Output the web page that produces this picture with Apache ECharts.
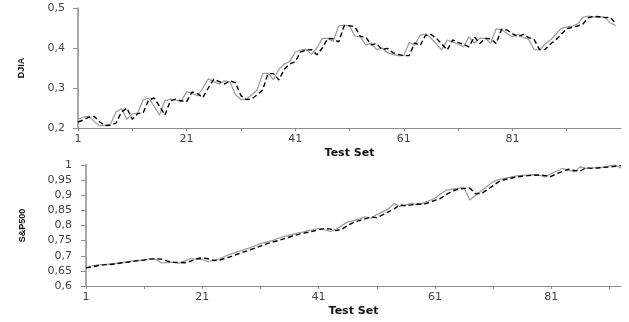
<!DOCTYPE html>
<html><head><meta charset="utf-8">
<script src="https://cdn.jsdelivr.net/npm/echarts@6/dist/echarts.min.js"></script>
<style>html,body{margin:0;padding:0;background:#fff}#c{width:629px;height:322px}</style>
</head><body><div id="c"></div>
<script>
const djiaActual = [0.222,0.227,0.229,0.216,0.205,0.207,0.210,0.240,0.249,0.222,0.235,0.238,0.270,0.275,0.255,0.232,0.268,0.272,0.270,0.266,
0.291,0.287,0.280,0.300,0.323,0.316,0.310,0.318,0.315,0.283,0.271,0.272,0.283,0.295,0.336,0.337,0.321,0.347,0.360,0.366,
0.390,0.395,0.397,0.384,0.400,0.424,0.424,0.416,0.455,0.457,0.455,0.430,0.428,0.408,0.412,0.396,0.400,0.388,0.384,0.381,
0.381,0.414,0.407,0.432,0.435,0.425,0.410,0.395,0.420,0.415,0.410,0.403,0.428,0.412,0.424,0.424,0.412,0.448,0.446,0.436,
0.428,0.435,0.426,0.422,0.396,0.395,0.410,0.420,0.434,0.449,0.452,0.455,0.460,0.477,0.480,0.478,0.477,0.478,0.463,0.456];
const djiaPredicted = [0.215,0.220,0.227,0.229,0.215,0.206,0.207,0.212,0.240,0.250,0.222,0.236,0.238,0.270,0.275,0.255,0.232,0.268,0.272,0.268,
0.266,0.290,0.286,0.276,0.300,0.322,0.316,0.310,0.318,0.313,0.281,0.271,0.273,0.283,0.295,0.336,0.336,0.320,0.347,0.360,
0.366,0.390,0.395,0.396,0.383,0.400,0.424,0.423,0.415,0.455,0.456,0.453,0.429,0.427,0.408,0.411,0.396,0.399,0.388,0.384,
0.381,0.381,0.413,0.406,0.432,0.434,0.424,0.410,0.395,0.420,0.414,0.409,0.403,0.428,0.411,0.424,0.423,0.411,0.447,0.445,
0.436,0.428,0.434,0.426,0.421,0.396,0.396,0.410,0.420,0.434,0.448,0.452,0.455,0.460,0.476,0.479,0.478,0.476,0.477,0.462];
const spActual = [0.662,0.666,0.670,0.671,0.672,0.675,0.677,0.680,0.683,0.685,0.686,0.690,0.688,0.676,0.677,0.679,0.675,0.683,0.691,0.688,
0.688,0.680,0.686,0.690,0.699,0.706,0.713,0.719,0.725,0.733,0.740,0.745,0.750,0.757,0.763,0.768,0.773,0.777,0.782,0.786,
0.790,0.786,0.780,0.787,0.800,0.812,0.816,0.822,0.829,0.824,0.836,0.845,0.855,0.873,0.862,0.868,0.873,0.868,0.875,0.882,
0.890,0.905,0.917,0.920,0.923,0.926,0.884,0.900,0.915,0.930,0.945,0.952,0.956,0.960,0.964,0.966,0.967,0.968,0.966,0.960,
0.972,0.980,0.989,0.982,0.978,0.994,0.989,0.990,0.992,0.993,0.997,1.000,0.989];
const spPredicted = [0.660,0.663,0.667,0.670,0.671,0.673,0.676,0.678,0.681,0.684,0.686,0.689,0.690,0.689,0.682,0.678,0.678,0.677,0.682,0.690,
0.693,0.690,0.684,0.686,0.692,0.698,0.705,0.712,0.718,0.725,0.732,0.739,0.745,0.750,0.756,0.762,0.768,0.773,0.777,0.781,
0.786,0.790,0.788,0.783,0.788,0.800,0.810,0.816,0.822,0.828,0.826,0.835,0.845,0.855,0.868,0.865,0.868,0.871,0.870,0.876,
0.883,0.890,0.903,0.914,0.920,0.922,0.924,0.905,0.906,0.918,0.932,0.945,0.952,0.956,0.960,0.963,0.965,0.966,0.967,0.965,
0.962,0.972,0.979,0.986,0.982,0.980,0.991,0.989,0.990,0.992,0.993,0.996,0.998];
const xLabels = [1,21,41,61,81];
const djiaTicks = {min:0.2, max:0.5, step:0.1};
const spTicks = {min:0.6, max:1.0, step:0.05};

const pairs = arr => arr.map((v,i)=>[i+1,v]);
const fmtY = v => { const r = Math.round(v*100)/100; return String(r).replace('.', ','); };
const axisCol = '#8c8c8c';
const lblStyle = {fontFamily:'DejaVu Sans', fontSize:11, color:'#444'};
function xAxisCfg(gi, max){
  return {type:'value', gridIndex:gi, min:1, max:max, interval:10,
    axisLine:{show:true,lineStyle:{color:axisCol,width:1}},
    axisTick:{show:true,length:3,lineStyle:{color:axisCol}},
    splitLine:{show:false},
    axisLabel:Object.assign({margin:6, showMaxLabel:false, formatter:v=> xLabels.includes(v)? String(v):''}, lblStyle),
    name:'Test Set', nameLocation:'middle', nameGap:20,
    nameTextStyle:{fontFamily:'DejaVu Sans', fontWeight:'bold', fontSize:11, color:'#111'}};
}
function yAxisCfg(gi, t, name, gap, lmargin){
  return {type:'value', gridIndex:gi, min:t.min, max:t.max, interval:t.step,
    axisLine:{show:true,lineStyle:{color:axisCol,width:1.5}},
    axisTick:{show:true,length:5,lineStyle:{color:axisCol}},
    splitLine:{show:false},
    axisLabel:Object.assign({margin:lmargin, formatter:fmtY}, lblStyle),
    name:name, nameLocation:'middle', nameGap:gap, nameRotate:90,
    nameTextStyle:{fontFamily:'Liberation Sans Narrow, Liberation Sans', fontWeight:'bold', fontSize:9, color:'#111'}};
}
const chart = echarts.init(document.getElementById('c'), null, {renderer:'canvas'});
chart.setOption({
  animation:false,
  backgroundColor:'#fff',
  grid:[{left:78, top:8, width:543, height:120},{left:86, top:165, width:535, height:121}],
  xAxis:[xAxisCfg(0,101), xAxisCfg(1,93)],
  yAxis:[yAxisCfg(0,djiaTicks,'DJIA',52,13), yAxisCfg(1,spTicks,'S&P500',59,14)],
  series:[
    {type:'line', xAxisIndex:0, yAxisIndex:0, data:pairs(djiaActual), showSymbol:false, lineStyle:{color:'#9a9a9a', width:1.2}},
    {type:'line', xAxisIndex:0, yAxisIndex:0, data:pairs(djiaPredicted), showSymbol:false, lineStyle:{color:'#000', width:1.4, type:[5,3]}},
    {type:'line', xAxisIndex:1, yAxisIndex:1, data:pairs(spActual), showSymbol:false, lineStyle:{color:'#9a9a9a', width:1.2}},
    {type:'line', xAxisIndex:1, yAxisIndex:1, data:pairs(spPredicted), showSymbol:false, lineStyle:{color:'#000', width:1.4, type:[5,3]}}
  ]
});
</script></body></html>
